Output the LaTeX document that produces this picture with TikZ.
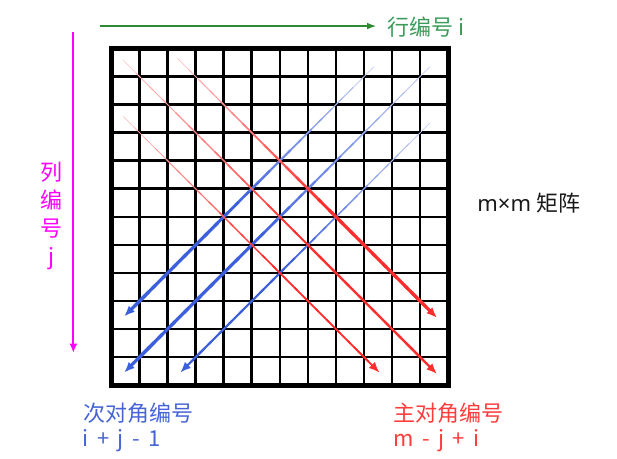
\documentclass[tikz,border=0pt]{standalone}
\usepackage{fontspec}
\setmainfont{Noto Sans CJK SC}
\newfontfamily\latinfont{Noto Sans}
\usetikzlibrary{arrows.meta,calc}
\definecolor{lgreen}{RGB}{46,139,50}
\definecolor{tgreen}{RGB}{60,155,90}
\definecolor{mag}{RGB}{255,0,255}
\definecolor{dblue}{RGB}{60,95,220}
\definecolor{dred}{RGB}{255,45,45}
\definecolor{tblue}{RGB}{70,100,215}
\definecolor{tred}{RGB}{255,60,60}
\definecolor{tdark}{RGB}{25,25,25}
\newcommand{\fadearrow}[4]{%
  \foreach \k in {0,...,23}{%
    \pgfmathsetmacro{\ta}{\k/24}%
    \pgfmathsetmacro{\tb}{min(0.92,(\k+1.3)/24)}%
    \pgfmathsetmacro{\pc}{min(100,30+130*\ta)}%
    \pgfmathsetmacro{\lw}{0.5+(#4-0.5)*min(1,1.6*\ta)}%
    \draw[draw=#3!\pc!white, line width=\lw pt] ($(#1)!\ta!(#2)$) -- ($(#1)!\tb!(#2)$);
  }%
  \draw[#3, line width=#4pt, -{Latex[length=8pt,width=6.5pt]}] ($(#1)!0.9!(#2)$) -- (#2);
}
\newcommand{\gap}{\hspace{0.38em}}
\tikzset{
  gridline/.style={black, line width=2pt},
  outerline/.style={black, line width=3.8pt, line join=miter},
  lbl/.style={font=\fontsize{16.5}{21}\selectfont, inner sep=0pt},
}
\begin{document}
\begin{tikzpicture}[x=21.045pt, y=-21.045pt]
\useasboundingbox (-3.974,-1.728) rectangle (18.015,14.630);
% grid
\foreach \i in {1,...,11}{
  \draw[gridline] (\i,0) -- (\i,12);
  \draw[gridline] (0,\i) -- (12,\i);
}
\draw[outerline] (0,0) rectangle (12,12);
% diagonal arrows
\coordinate (r1s) at (0.42,0.42);  \coordinate (r1e) at (11.6,11.6);
\coordinate (r2s) at (2.35,0.35);  \coordinate (r2e) at (11.6,9.6);
\coordinate (r3s) at (0.42,2.42);  \coordinate (r3e) at (9.55,11.55);
\coordinate (b1s) at (11.35,0.65); \coordinate (b1e) at (0.45,11.55);
\coordinate (b2s) at (9.35,0.65);  \coordinate (b2e) at (0.45,9.55);
\coordinate (b3s) at (11.35,2.65); \coordinate (b3e) at (2.45,11.55);
\fadearrow{b1s}{b1e}{dblue}{2.4}
\fadearrow{b2s}{b2e}{dblue}{2.4}
\fadearrow{b3s}{b3e}{dblue}{1.6}
\fadearrow{r1s}{r1e}{dred}{1.7}
\fadearrow{r2s}{r2e}{dred}{2.4}
\fadearrow{r3s}{r3e}{dred}{1.3}
% row label and arrow
\node[lbl, anchor=west, text=tgreen] (rowlbl) at (9.82,-0.77) {行编号 i};
\coordinate (gs) at (-0.41,-0.80);
\draw[lgreen, line width=1.1pt, -{Latex[length=7pt,width=5pt]}] (gs) -- ([xshift=-8pt]rowlbl.west |- gs);
% column label and arrow
\coordinate (ms) at (-1.36,-0.59);
\coordinate (me) at (-1.36,10.85);
\draw[mag, line width=1.5pt, -{Latex[length=7pt,width=6pt]}] (ms) -- (me);
\node[lbl, text=mag, align=center] (collbl) at (-2.14,5.97) {列\\编\\号\\j};
% matrix label
\node[lbl, anchor=west, text=tdark] (matlbl) at (13.03,5.51) {{\latinfont m×m} 矩阵};
% bottom labels
\node[lbl, anchor=west, text=tblue] (sublbl) at (-1.02,12.99) {次对角编号};
\node[lbl, anchor=west, text=tblue] (subform) at (-1.03,13.99) {i\gap+\gap j\gap-\gap1};
\node[lbl, anchor=west, text=tred] (mainlbl) at (10.04,12.99) {主对角编号};
\node[lbl, anchor=west, text=tred] (mainform) at (10.04,13.99) {m\gap-\gap j\gap+\gap i};
\end{tikzpicture}
\end{document}
